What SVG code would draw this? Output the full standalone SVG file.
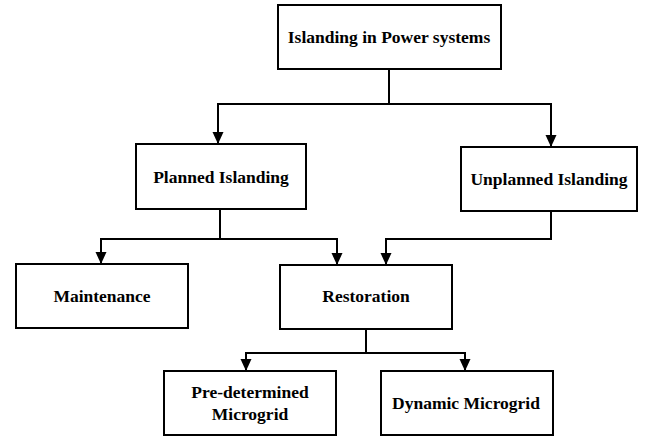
<svg xmlns="http://www.w3.org/2000/svg" width="648" height="437" viewBox="0 0 648 437">
<defs>
<style>
.box{fill:#fff;stroke:#000;stroke-width:2}
.lbl{font-family:'Liberation Serif','DejaVu Serif',serif;font-weight:700;font-size:17.5px;fill:#000;text-anchor:middle}
.con{fill:none;stroke:#000;stroke-width:2}
.arr{marker-end:url(#ah)}
</style>
<marker id="ah" markerUnits="userSpaceOnUse" markerWidth="12" markerHeight="12" refX="12" refY="5.5" orient="auto">
<path d="M0,0 L12,5.5 L0,11 z" fill="#000"/>
</marker>
</defs>
<rect width="648" height="437" fill="#fff"/>
<g id="connectors">
<path class="con" d="M389,69 V104"/>
<path class="con arr" d="M389,104 H218 V144"/>
<path class="con arr" d="M389,104 H551 V147"/>
<path class="con" d="M220,209 V239"/>
<path class="con arr" d="M220,239 H101 V264"/>
<path class="con arr" d="M220,239 H337 V265"/>
<path class="con arr" d="M551,211 V239 H386 V265"/>
<path class="con" d="M366,329 V353"/>
<path class="con arr" d="M366,353 H246 V371"/>
<path class="con arr" d="M366,353 H465 V371"/>
</g>
<g id="n-root">
<rect class="box" x="278" y="5" width="223" height="64"/>
<text class="lbl" x="389" y="43">Islanding in Power systems</text>
</g>
<g id="n-planned">
<rect class="box" x="136" y="144" width="170" height="65"/>
<text class="lbl" x="221" y="183">Planned Islanding</text>
</g>
<g id="n-unplanned">
<rect class="box" x="461" y="147" width="176" height="64"/>
<text class="lbl" x="549" y="185">Unplanned Islanding</text>
</g>
<g id="n-maintenance">
<rect class="box" x="16" y="264" width="172" height="64"/>
<text class="lbl" x="102" y="302">Maintenance</text>
</g>
<g id="n-restoration">
<rect class="box" x="280" y="265" width="172" height="64"/>
<text class="lbl" x="366" y="302">Restoration</text>
</g>
<g id="n-predetermined">
<rect class="box" x="164" y="371" width="172" height="64"/>
<text class="lbl" x="250" y="398">Pre-determined</text>
<text class="lbl" x="250" y="420">Microgrid</text>
</g>
<g id="n-dynamic">
<rect class="box" x="381" y="371" width="172" height="64"/>
<text class="lbl" x="466" y="409">Dynamic Microgrid</text>
</g>
</svg>
